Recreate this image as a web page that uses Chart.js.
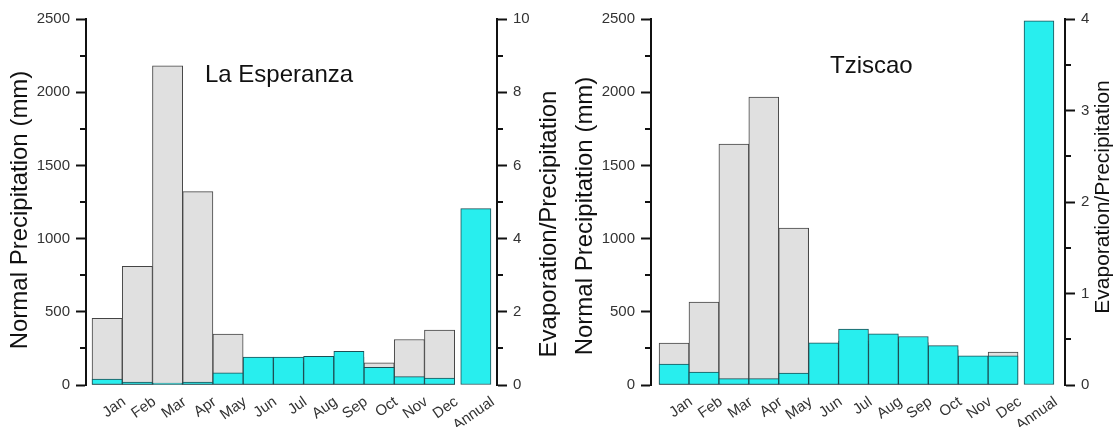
<!DOCTYPE html>
<html>
<head>
<meta charset="utf-8">
<title>La Esperanza / Tziscao</title>
<script src="https://cdn.jsdelivr.net/npm/chart.js@4.4.1/dist/chart.umd.min.js"></script>
<style>
  html, body { margin: 0; padding: 0; background: #fff; }
  #wrap { display: flex; width: 1120px; height: 427px; }
  canvas { display: block; }
</style>
</head>
<body>
<div id="wrap">
  <canvas id="esperanza" width="560" height="427"></canvas>
  <canvas id="tziscao" width="560" height="427"></canvas>
</div>
<script>
// Data
const categories = ['Jan', 'Feb', 'Mar', 'Apr', 'May', 'Jun', 'Jul', 'Aug', 'Sep', 'Oct', 'Nov', 'Dec', 'Annual'];

const esperanzaPrecip = [456, 810, 2180, 1321, 347, 170, 150, 160, 190, 152, 311, 375, null];
const esperanzaRatio = [0.16, 0.08, 0.05, 0.08, 0.33, 0.76, 0.76, 0.78, 0.92, 0.48, 0.23, 0.19, 4.82];

const tziscaoPrecip = [287, 567, 1646, 1967, 1072, 250, 300, 280, 290, 240, 190, 225, null];
const tziscaoRatio = [0.23, 0.14, 0.07, 0.07, 0.13, 0.46, 0.61, 0.56, 0.53, 0.43, 0.32, 0.32, 3.98];

const precipTicks = [0, 500, 1000, 1500, 2000, 2500];
const esperanzaRatioTicks = [0, 2, 4, 6, 8, 10];
const tziscaoRatioTicks = [0, 1, 2, 3, 4];

// Layout
const FONT = "'Liberation Sans', Arial, sans-serif";
const ANNUAL_GAP = 0.2;
const xOf = i => i + 1 + (categories[i] === 'Annual' ? ANNUAL_GAP : 0);

// Short ticks halfway between the labelled ones
const minorTicks = {
  id: 'minorTicks',
  afterDraw(chart) {
    const ctx = chart.ctx;
    ctx.save();
    ctx.strokeStyle = '#111';
    ctx.lineWidth = 2;
    ['y', 'y2'].forEach(id => {
      const scale = chart.scales[id];
      const vals = scale.ticks.map(t => t.value);
      const x0 = id === 'y' ? scale.right : scale.left;
      const dir = id === 'y' ? -1 : 1;
      for (let i = 0; i < vals.length - 1; i++) {
        const py = Math.round(scale.getPixelForValue((vals[i] + vals[i + 1]) / 2));
        ctx.beginPath();
        ctx.moveTo(x0, py);
        ctx.lineTo(x0 + dir * 6, py);
        ctx.stroke();
      }
    });
    ctx.restore();
  }
};

// Station name and the two rotated axis titles
const panelText = {
  id: 'panelText',
  afterDraw(chart, args, opts) {
    const ctx = chart.ctx;
    ctx.save();
    ctx.fillStyle = '#111';
    ctx.textBaseline = 'alphabetic';
    ctx.textAlign = 'left';
    ctx.font = `24px ${FONT}`;
    ctx.fillText(opts.name, opts.nameX, opts.nameY);
    opts.titles.forEach(t => {
      ctx.save();
      ctx.translate(t.x, t.y);
      ctx.rotate(-Math.PI / 2);
      ctx.textAlign = 'center';
      ctx.textBaseline = 'middle';
      ctx.font = `${t.size}px ${FONT}`;
      ctx.fillText(t.text, 0, 0);
      ctx.restore();
    });
    ctx.restore();
  }
};

function yAxis(position, ticks, width) {
  return {
    type: 'linear',
    position: position,
    min: ticks[0],
    max: ticks[ticks.length - 1],
    afterBuildTicks: scale => { scale.ticks = ticks.map(v => ({ value: v })); },
    afterFit: scale => { scale.width = width; },
    border: { display: true, color: '#111', width: 2 },
    grid: { drawOnChartArea: false, drawTicks: true, tickLength: 10, tickColor: '#111', tickWidth: 2 },
    ticks: {
      color: '#333',
      padding: 6,
      font: { family: FONT, size: 15 },
      callback: v => String(v)
    }
  };
}

function makeChart(id, cfg) {
  new Chart(document.getElementById(id), {
    type: 'bar',
    data: {
      datasets: [{
        label: 'Evaporation/Precipitation',
        data: cfg.ratio.map((v, i) => ({ x: xOf(i), y: v })),
        yAxisID: 'y2',
        order: 0,
        grouped: false,
        backgroundColor: '#28eeee',
        borderColor: '#1d4f55',
        borderWidth: 1,
        borderSkipped: false,
        barPercentage: 1,
        categoryPercentage: 1
      }, {
        label: 'Normal Precipitation (mm)',
        data: cfg.precip.map((v, i) => ({ x: xOf(i), y: v })),
        yAxisID: 'y',
        order: 1,
        grouped: false,
        backgroundColor: '#e0e0e0',
        borderColor: '#444',
        borderWidth: 1,
        borderSkipped: false,
        barPercentage: 1,
        categoryPercentage: 1
      }]
    },
    options: {
      responsive: false,
      animation: false,
      layout: { padding: { top: 19, bottom: 0, left: 0, right: 0 } },
      plugins: {
        legend: { display: false },
        tooltip: { enabled: false },
        panelText: cfg.text
      },
      scales: {
        x: {
          type: 'linear',
          offset: false,
          min: cfg.xMin,
          max: cfg.xMax,
          afterBuildTicks: scale => { scale.ticks = categories.map((c, i) => ({ value: xOf(i) })); },
          afterFit: scale => { scale.height = 42; },
          border: { display: false },
          grid: { display: false, offset: false },
          ticks: {
            autoSkip: false,
            minRotation: 35,
            maxRotation: 35,
            labelOffset: 17,
            padding: 0,
            color: '#333',
            font: { family: FONT, size: 15 },
            callback: (v, i) => categories[i]
          }
        },
        y: yAxis('left', precipTicks, cfg.leftWidth),
        y2: yAxis('right', cfg.ratioTicks, cfg.rightWidth)
      }
    },
    plugins: [minorTicks, panelText]
  });
}

makeChart('esperanza', {
  precip: esperanzaPrecip,
  ratio: esperanzaRatio,
  ratioTicks: esperanzaRatioTicks,
  xMin: 0.3, xMax: 13.9,
  leftWidth: 86, rightWidth: 63,
  text: {
    name: 'La Esperanza', nameX: 205, nameY: 82,
    titles: [
      { text: 'Normal Precipitation (mm)', x: 20, y: 210, size: 24 },
      { text: 'Evaporation/Precipitation', x: 549, y: 224, size: 24 }
    ]
  }
});

makeChart('tziscao', {
  precip: tziscaoPrecip,
  ratio: tziscaoRatio,
  ratioTicks: tziscaoRatioTicks,
  xMin: 0.23, xMax: 14.07,
  leftWidth: 91, rightWidth: 55,
  text: {
    name: 'Tziscao', nameX: 270, nameY: 73,
    titles: [
      { text: 'Normal Precipitation (mm)', x: 25, y: 216, size: 24 },
      { text: 'Evaporation/Precipitation', x: 543, y: 197, size: 21 }
    ]
  }
});
</script>
</body>
</html>
